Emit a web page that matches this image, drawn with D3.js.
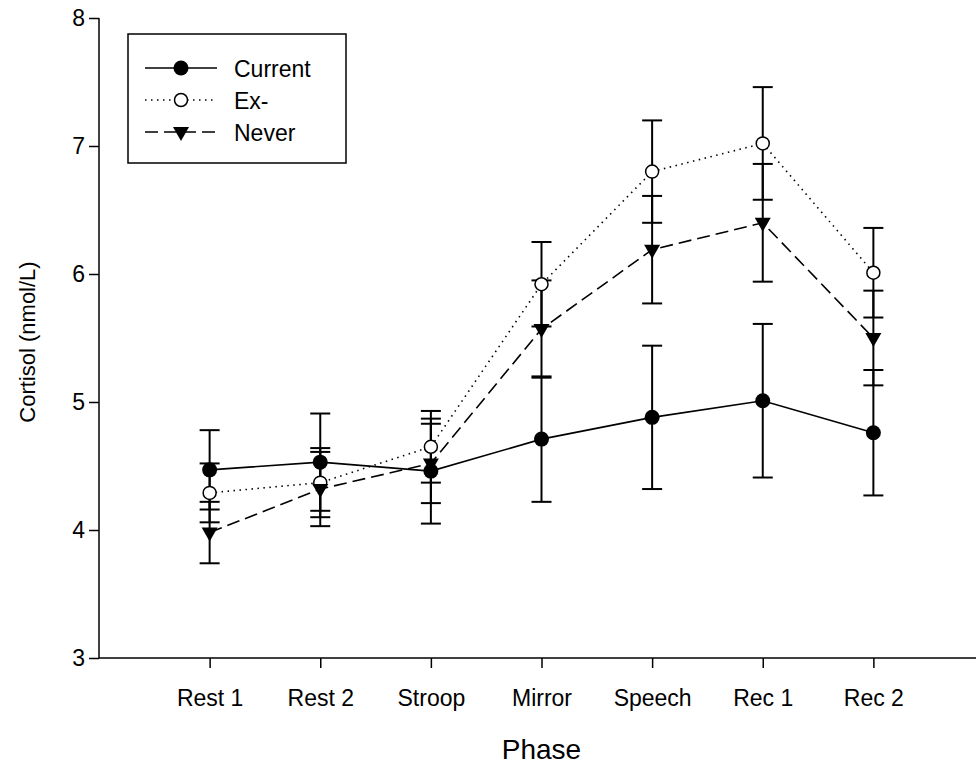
<!DOCTYPE html>
<html>
<head>
<meta charset="utf-8">
<script src="https://cdn.jsdelivr.net/npm/d3@7/dist/d3.min.js"></script>
<style>
  body { margin: 0; background: #fff; }
  text { font-family: "Liberation Sans", Arial, sans-serif; fill: #000; }
</style>
</head>
<body>
<svg id="chart" width="976" height="768"></svg>
<script>
// categorias do eixo x
const phases = ["Rest 1", "Rest 2", "Stroop", "Mirror", "Speech", "Rec 1", "Rec 2"];

// médias e erros padrão
const currentMean = [4.47, 4.53, 4.46, 4.71, 4.88, 5.01, 4.76];
const currentErr  = [0.31, 0.38, 0.41, 0.49, 0.56, 0.60, 0.49];
const exMean      = [4.29, 4.37, 4.65, 5.92, 6.80, 7.02, 6.01];
const exErr       = [0.23, 0.27, 0.28, 0.33, 0.40, 0.44, 0.35];
const neverMean   = [3.98, 4.32, 4.52, 5.57, 6.19, 6.40, 5.50];
const neverErr    = [0.24, 0.29, 0.31, 0.38, 0.42, 0.46, 0.37];

const yTicks = [3, 4, 5, 6, 7, 8];

const series = [
    { name: "Current", mean: currentMean, err: currentErr, dash: null, marker: "filled" },
    { name: "Ex-", mean: exMean, err: exErr, dash: "1.5,4.5", marker: "open" },
    { name: "Never", mean: neverMean, err: neverErr, dash: "13,6", marker: "triangle" }
];

const svg = d3.select("#chart");

// escalas
const x = d3.scaleLinear().domain([0, 8]).range([99, 984]);
const y = d3.scaleLinear().domain([3, 8]).range([658, 18]);

// eixo y
const yAxis = svg.append("g")
    .attr("transform", "translate(99,0)")
    .call(d3.axisLeft(y).tickValues(yTicks).tickSize(10).tickPadding(4).tickFormat(d3.format("d")));
yAxis.select(".domain").attr("stroke-width", 1.5).attr("d", `M-0,${y(3)}V${y(8)}`);
yAxis.selectAll(".tick line").attr("stroke-width", 1.5);
yAxis.selectAll("text").style("font-size", "23px").attr("font-family", null);

// eixo x
const xAxis = svg.append("g")
    .attr("transform", `translate(0,${y(3)})`)
    .call(d3.axisBottom(x).tickValues(d3.range(1, 8)).tickSize(10).tickPadding(22)
        .tickFormat(d => phases[d - 1]));
xAxis.select(".domain").attr("stroke-width", 1.5).attr("d", `M${x(0)},0H${x(8)}`);
xAxis.selectAll(".tick line").attr("stroke-width", 1.5);
xAxis.selectAll("text").style("font-size", "23px").attr("font-family", null);

// títulos dos eixos
svg.append("text")
    .attr("x", x(4))
    .attr("y", 759)
    .attr("text-anchor", "middle")
    .style("font-size", "28px")
    .text("Phase");

svg.append("text")
    .attr("transform", "translate(35,342) rotate(-90)")
    .attr("text-anchor", "middle")
    .style("font-size", "22px")
    .text("Cortisol (nmol/L)");

const line = d3.line()
    .x((d, i) => x(i + 1))
    .y(d => y(d));

// barras de erro
series.forEach(s => {
    const g = svg.append("g");
    s.mean.forEach((m, i) => {
        const cx = x(i + 1);
        const top = y(m + s.err[i]);
        const bot = y(m - s.err[i]);
        g.append("line").attr("x1", cx).attr("x2", cx).attr("y1", top).attr("y2", bot)
            .attr("stroke", "#000").attr("stroke-width", 2);
        [top, bot].forEach(yy => {
            g.append("line").attr("x1", cx - 10).attr("x2", cx + 10).attr("y1", yy).attr("y2", yy)
                .attr("stroke", "#000").attr("stroke-width", 2);
        });
    });
});

// linhas
series.forEach(s => {
    svg.append("path")
        .datum(s.mean)
        .attr("d", line)
        .attr("fill", "none")
        .attr("stroke", "#000")
        .attr("stroke-width", 1.6)
        .attr("stroke-dasharray", s.dash);
});

// desenhar um marcador
function drawMarker(g, type, cx, cy) {
    if (type === "filled") {
        g.append("circle").attr("cx", cx).attr("cy", cy).attr("r", 7.5).attr("fill", "#000");
    } else if (type === "open") {
        g.append("circle").attr("cx", cx).attr("cy", cy).attr("r", 6.5)
            .attr("fill", "#fff").attr("stroke", "#000").attr("stroke-width", 1.5);
    } else {
        g.append("path")
            .attr("d", `M${cx - 8},${cy - 5}L${cx + 8},${cy - 5}L${cx},${cy + 9}Z`)
            .attr("fill", "#000");
    }
}

// marcadores
series.forEach(s => {
    const g = svg.append("g");
    s.mean.forEach((m, i) => drawMarker(g, s.marker, x(i + 1), y(m)));
});

// legenda
const legend = svg.append("g");
legend.append("rect")
    .attr("x", 128).attr("y", 34).attr("width", 218).attr("height", 129)
    .attr("fill", "#fff").attr("stroke", "#000").attr("stroke-width", 1.5);

series.forEach((s, i) => {
    const ly = 68 + i * 32;
    legend.append("line")
        .attr("x1", 145).attr("x2", 217).attr("y1", ly).attr("y2", ly)
        .attr("stroke", "#000").attr("stroke-width", 1.6)
        .attr("stroke-dasharray", s.dash);
    drawMarker(legend, s.marker, 181, ly);
    legend.append("text")
        .attr("x", 234).attr("y", ly + 9)
        .style("font-size", "23px")
        .text(s.name);
});
</script>
</body>
</html>
